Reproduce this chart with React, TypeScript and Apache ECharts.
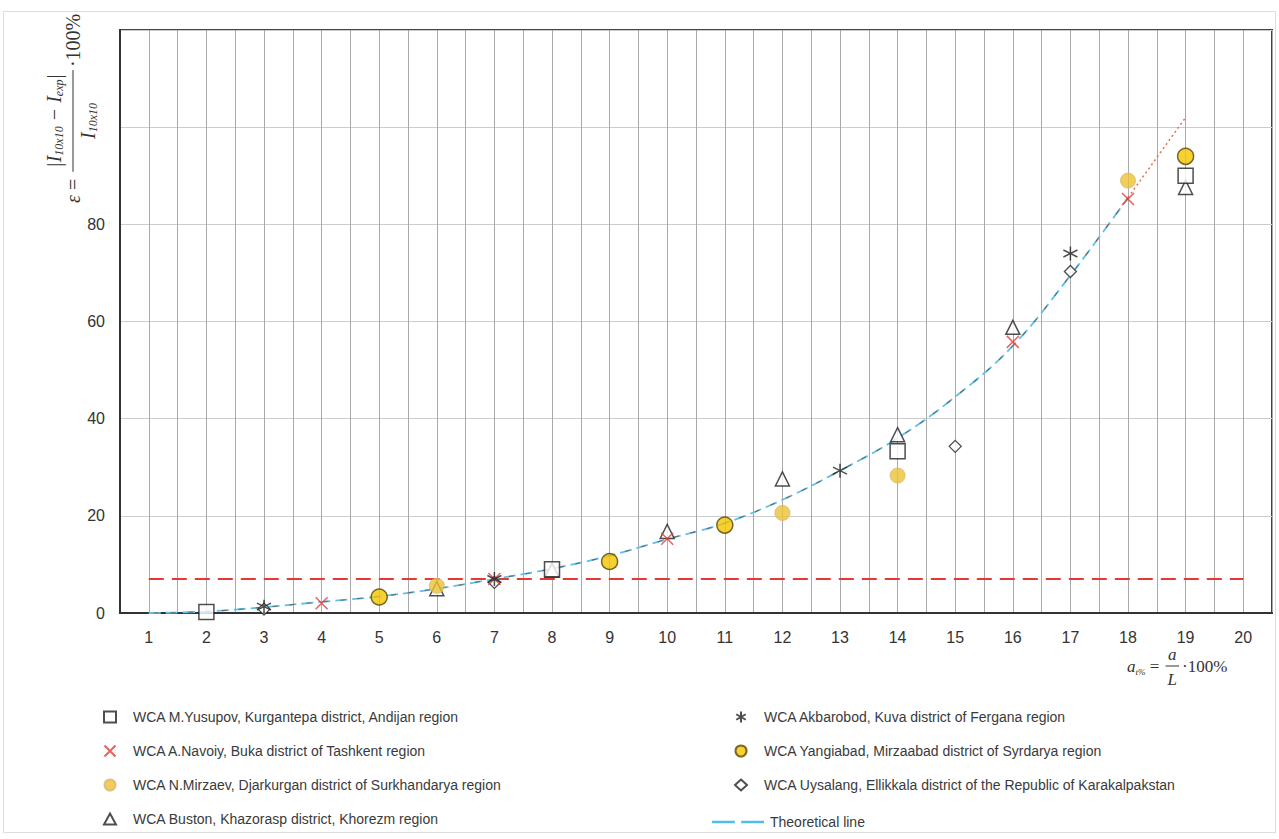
import React, { useEffect, useRef } from "react";
import * as echarts from "echarts";

// ---- data ----
const xTicks = [1, 2, 3, 4, 5, 6, 7, 8, 9, 10, 11, 12, 13, 14, 15, 16, 17, 18, 19, 20];
const yTicks = [0, 20, 40, 60, 80];

const yusupov = [[2, 0.2], [8, 9], [14, 33.3], [19, 90]];
const navoiy = [[4, 2], [7, 7], [10, 15.3], [16, 55.8], [18, 85.2]];
const mirzaev = [[6, 5.6], [12, 20.6], [14, 28.3], [18, 89]];
const buston = [[6, 5], [8, 8.8], [10, 16.8], [12, 27.6], [14, 36.7], [16, 58.8], [19, 87.6]];
const akbarobod = [[3, 1.3], [7, 7], [13, 29.3], [17, 74]];
const yangiabad = [[5, 3.3], [9, 10.6], [11, 18.1], [19, 94]];
const uysalang = [[3, 0.8], [7, 6.3], [15, 34.3], [17, 70.3]];

const theoX = [1, 2, 3, 4, 5, 6, 7, 8, 9, 10, 11, 12, 13, 14, 15, 16, 17, 18];
const theoY = [0, 0.3, 1.2, 2.3, 3.4, 5, 7, 9.1, 11.8, 15.2, 18.5, 23.3, 29.3, 36, 44.5, 55, 69.5, 85.5];
const extX = [18, 19];
const extY = [85.5, 102];
const limitX = [1, 20];
const limitY = [7, 7];

const names = {
  yusupov: "WCA M.Yusupov, Kurgantepa district, Andijan region",
  navoiy: "WCA A.Navoiy, Buka district of Tashkent region",
  mirzaev: "WCA N.Mirzaev, Djarkurgan district of Surkhandarya region",
  buston: "WCA Buston, Khazorasp district, Khorezm region",
  akbarobod: "WCA Akbarobod, Kuva district of Fergana region",
  yangiabad: "WCA Yangiabad, Mirzaabad district of Syrdarya region",
  uysalang: "WCA Uysalang, Ellikkala district of the Republic of Karakalpakstan",
  theo: "Theoretical line",
};

const SERIF = '"Liberation Serif", "DejaVu Serif", serif';
const SANS = '"Liberation Sans", Arial, sans-serif';

let ctx: CanvasRenderingContext2D | null = null;
function measure(text: string, font: string) {
  if (!ctx) ctx = document.createElement("canvas").getContext("2d");
  if (!ctx) return text.length * 8;
  ctx.font = font;
  return ctx.measureText(text).width;
}

type Piece = { t: string; k: "i" | "r" | "s" };

function buildRow(pieces: Piece[], F: number, S: number, startX: number, y: number, subDy: number) {
  const els: any[] = [];
  let x = startX;
  for (const p of pieces) {
    const font =
      p.k === "i" ? `italic ${F}px ${SERIF}` : p.k === "r" ? `${F}px ${SERIF}` : `italic ${S}px ${SERIF}`;
    const w = measure(p.t, font);
    els.push({
      type: "text",
      x,
      y: y + (p.k === "s" ? subDy : 0),
      style: {
        text: p.t,
        font,
        fill: "#333",
        textAlign: "left",
        textVerticalAlign: "middle",
        align: "left",
        verticalAlign: "middle",
      },
    });
    x += w;
  }
  return { els, width: x - startX };
}

function rowWidth(pieces: Piece[], F: number, S: number) {
  return buildRow(pieces, F, S, 0, 0, 0).width;
}

function fractionFormula(
  pre: Piece[],
  num: Piece[],
  den: Piece[],
  post: Piece[],
  F: number,
  S: number,
  numDy: number,
  denDy: number,
  subDy: number,
  extra: number
) {
  const els: any[] = [];
  const p = buildRow(pre, F, S, 0, 0, subDy);
  els.push(...p.els);
  const wn = rowWidth(num, F, S);
  const wd = rowWidth(den, F, S);
  const barStart = p.width + 2;
  const barLen = Math.max(wn, wd) + extra;
  els.push(...buildRow(num, F, S, barStart + (barLen - wn) / 2, numDy, subDy).els);
  els.push(...buildRow(den, F, S, barStart + (barLen - wd) / 2, denDy, subDy).els);
  els.push({
    type: "line",
    shape: { x1: barStart, y1: 0, x2: barStart + barLen, y2: 0 },
    style: { stroke: "#333", lineWidth: 1 },
  });
  els.push(...buildRow(post, F, S, barStart + barLen + 3, 0, subDy).els);
  return els;
}

export default function App() {
  const ref = useRef<HTMLDivElement>(null);

  useEffect(() => {
    if (!ref.current) return;
    const chart = echarts.init(ref.current, null, { renderer: "svg" });

    const yTitle = fractionFormula(
      [{ t: "ε", k: "i" }, { t: " = ", k: "r" }],
      [
        { t: "|I", k: "i" },
        { t: "10x10", k: "s" },
        { t: " − I", k: "i" },
        { t: "exp", k: "s" },
        { t: "|", k: "i" },
      ],
      [{ t: "I", k: "i" }, { t: "10x10", k: "s" }],
      [{ t: "·100%", k: "r" }],
      20,
      12,
      -19,
      15,
      5,
      8
    );

    const xTitle = fractionFormula(
      [{ t: "a", k: "i" }, { t: "t%", k: "s" }, { t: " = ", k: "r" }],
      [{ t: "a", k: "i" }],
      [{ t: "L", k: "i" }],
      [{ t: "·100%", k: "r" }],
      17,
      9,
      -12,
      13,
      6,
      4
    );

    const scatterBase = (name: string, data: number[][], symbol: string, size: number, itemStyle: any, z = 5) => ({
      name,
      type: "scatter",
      data,
      symbol,
      symbolSize: size,
      itemStyle,
      z,
    });

    const crossPath = "path://M0,0L10,10M10,0L0,10";
    const starPath = "path://M5,0L5,10M0.7,2.5L9.3,7.5M0.7,7.5L9.3,2.5";

    const legendText = { fontSize: 14, color: "#3a3a3a", fontFamily: SANS, padding: [0, 0, 0, 12] };
    const rowGap = 20;

    chart.setOption({
      animation: false,
      backgroundColor: "#fff",
      grid: {
        left: 120,
        right: 7,
        top: 30,
        bottom: 226,
        show: true,
        borderColor: "#444",
        borderWidth: 2,
        backgroundColor: "transparent",
      },
      xAxis: {
        type: "value",
        min: 0.5,
        max: 20.5,
        interval: 0.5,
        axisLine: { show: true, onZero: false, lineStyle: { color: "#333", width: 2 } },
        axisTick: { show: false },
        splitLine: { show: true, lineStyle: { color: "#aaa", width: 1 } },
        axisLabel: {
          fontSize: 16,
          color: "#333",
          margin: 16,
          fontFamily: SANS,
          formatter: (v: number) => (xTicks.includes(v) ? String(v) : ""),
        },
      },
      yAxis: {
        type: "value",
        min: 0,
        max: 120,
        interval: 20,
        axisLine: { show: true, lineStyle: { color: "#333", width: 2 } },
        axisTick: { show: false },
        splitLine: { show: true, lineStyle: { color: "#ccc", width: 1 } },
        axisLabel: {
          fontSize: 16,
          color: "#333",
          margin: 15,
          fontFamily: SANS,
          formatter: (v: number) => (yTicks.includes(v) ? String(v) : ""),
        },
      },
      legend: [
        {
          orient: "vertical",
          left: 98,
          top: 705,
          itemWidth: 12,
          itemHeight: 11,
          itemGap: rowGap,
          textStyle: legendText,
          data: [names.yusupov, names.navoiy, names.mirzaev, names.buston],
        },
        {
          orient: "vertical",
          left: 729,
          top: 705,
          itemWidth: 12,
          itemHeight: 11,
          itemGap: rowGap,
          textStyle: legendText,
          data: [names.akbarobod, names.yangiabad, names.uysalang],
        },
        {
          orient: "vertical",
          left: 707,
          top: 810,
          itemWidth: 52,
          itemHeight: 11,
          textStyle: { ...legendText, padding: [0, 0, 0, 1] },
          data: [
            {
              name: names.theo,
              icon: "path://M0,0H18V2H0Z M23,0H41V2H23Z",
              itemStyle: { color: "#4fbde9" },
            },
          ],
        },
      ],
      graphic: [
        {
          type: "rect",
          shape: { x: 3.5, y: 11.5, width: 1272, height: 821 },
          style: { fill: "none", stroke: "#dcdcdc", lineWidth: 1 },
          silent: true,
        },
        { type: "group", x: 73, y: 203, rotation: Math.PI / 2, children: yTitle },
        { type: "group", x: 1127, y: 666, children: xTitle },
      ],
      series: [
        {
          name: "limit",
          type: "line",
          data: limitX.map((x, i) => [x, limitY[i]]),
          symbol: "none",
          lineStyle: { color: "#e53935", width: 2, type: [15, 8] },
          z: 2,
        },
        {
          name: names.theo,
          type: "line",
          data: theoX.map((x, i) => [x, theoY[i]]),
          smooth: 0.4,
          symbol: "none",
          itemStyle: { color: "#4fbde9" },
          lineStyle: { color: "#5cc2ec", width: 1.8, type: [12, 5] },
          z: 3,
        },
        {
          name: "theo-overlay",
          type: "line",
          data: theoX.map((x, i) => [x, theoY[i]]),
          smooth: 0.4,
          symbol: "none",
          lineStyle: { color: "#6a6a6a", width: 1.1, type: [5, 12], dashOffset: 12 },
          z: 3,
        },
        {
          name: "extension",
          type: "line",
          data: extX.map((x, i) => [x, extY[i]]),
          symbol: "none",
          lineStyle: { color: "#e0704e", width: 1.5, type: [2, 3] },
          z: 3,
        },
        scatterBase(names.buston, buston, "triangle", 14, { color: "#fff", borderColor: "#222", borderWidth: 1.5 }),
        scatterBase(names.yusupov, yusupov, "rect", 15, { color: "#fff", borderColor: "#222", borderWidth: 1.5 }),
        scatterBase(names.uysalang, uysalang, "diamond", 12, { color: "#fff", borderColor: "#222", borderWidth: 1.3 }),
        scatterBase(names.mirzaev, mirzaev, "circle", 15, { color: "#ecc232", borderColor: "#d8b870", borderWidth: 1 }, 6),
        scatterBase(names.yangiabad, yangiabad, "circle", 16, { color: "#f5c400", borderColor: "#5a4700", borderWidth: 1.5 }, 6),
        scatterBase(names.navoiy, navoiy, crossPath, 12, { color: "transparent", borderColor: "#e53935", borderWidth: 1.5 }, 7),
        scatterBase(names.akbarobod, akbarobod, starPath, 14, { color: "transparent", borderColor: "#222", borderWidth: 1.5 }, 7),
      ],
    });

    return () => chart.dispose();
  }, []);

  return (
    <div
      ref={ref}
      style={{ position: "fixed", left: 0, top: 0, width: 1279, height: 839, background: "#fff" }}
    />
  );
}
